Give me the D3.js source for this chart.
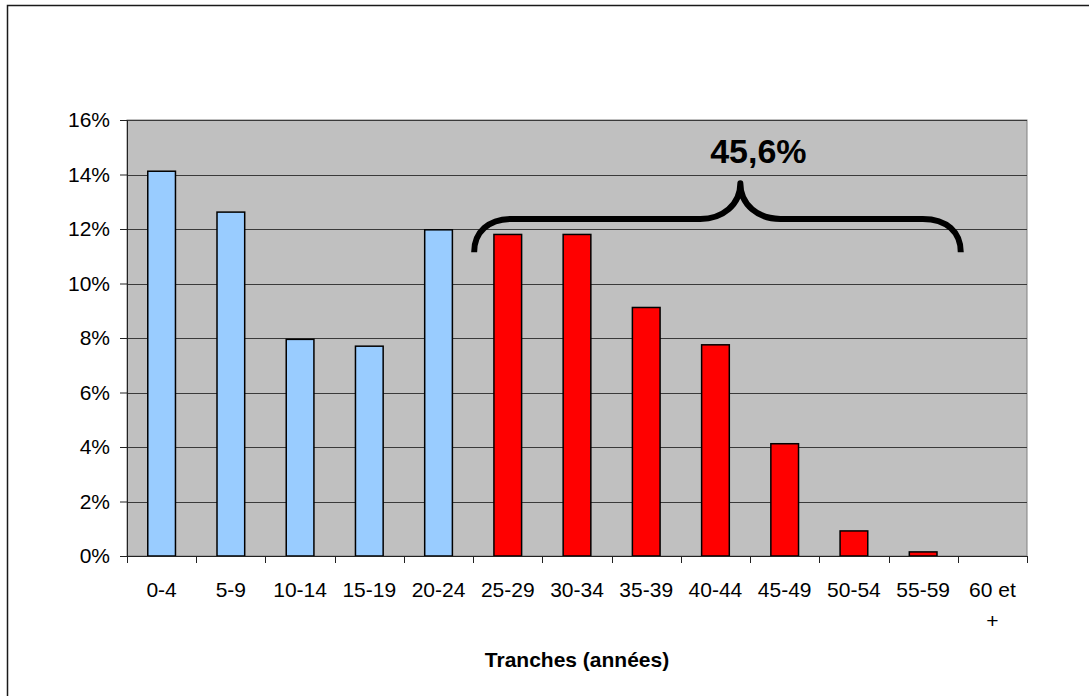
<!DOCTYPE html>
<html>
<head>
<meta charset="utf-8">
<script src="https://cdn.jsdelivr.net/npm/d3@7"></script>
<style>
  body { margin: 0; background: #fff; }
  svg { display: block; font-family: "Liberation Sans", Arial, sans-serif; }
</style>
</head>
<body>
<svg class="chart"></svg>
<script>
const categories = ['0-4', '5-9', '10-14', '15-19', '20-24', '25-29', '30-34',
  '35-39', '40-44', '45-49', '50-54', '55-59', '60 et +'];
const values = [14.12, 12.62, 7.95, 7.7, 11.97, 11.8, 11.8, 9.12, 7.75, 4.12, 0.92, 0.15, 0];
const highlighted = ['25-29', '30-34', '35-39', '40-44', '45-49', '50-54', '55-59', '60 et +'];
const yTicks = [0, 2, 4, 6, 8, 10, 12, 14, 16];
const braceLabel = '45,6%';
const xTitle = 'Tranches (années)';

const width = 1089;
const height = 696;

const svg = d3.select('.chart')
  .attr('width', width)
  .attr('height', height);

// outer frame: only the left and top edges show in the picture
svg.append('path')
  .attr('d', `M7.5,${height} L7.5,5.5 L${width},5.5`)
  .attr('fill', 'none')
  .attr('stroke', '#1a1a1a')
  .attr('stroke-width', 1.5);

const margin = {left: 127, top: 120, right: 62, bottom: 140};
const innerWidth = width - margin.left - margin.right;
const innerHeight = height - margin.top - margin.bottom;

const xScale = d3.scaleBand().domain(categories).range([0, innerWidth]).padding(0);
const yScale = d3.scaleLinear().domain([0, 16]).range([innerHeight, 0]);

const g = svg.append('g')
  .attr('transform', `translate(${margin.left},${margin.top})`);

g.append('rect')
  .attr('width', innerWidth)
  .attr('height', innerHeight)
  .attr('fill', '#c0c0c0')
  .attr('stroke', '#808080');

// gridlines
g.selectAll('.grid').data(yTicks.filter(d => d > 0)).enter().append('line')
  .attr('x1', 0).attr('x2', innerWidth)
  .attr('y1', d => Math.round(yScale(d)) + 0.5)
  .attr('y2', d => Math.round(yScale(d)) + 0.5)
  .attr('stroke', '#3a3a3a')
  .attr('stroke-width', 1);

// bars
const bw = xScale.bandwidth() * 0.4;
g.selectAll('.bar').data(categories).enter().append('rect')
  .attr('x', d => xScale(d) + (xScale.bandwidth() - bw) / 2)
  .attr('y', (d, i) => yScale(values[i]))
  .attr('width', bw)
  .attr('height', (d, i) => innerHeight - yScale(values[i]))
  .attr('fill', d => highlighted.includes(d) ? '#ff0000' : '#99ccff')
  .attr('stroke', '#000')
  .attr('stroke-width', 1.5)
  .attr('display', (d, i) => values[i] > 0 ? null : 'none');

// y axis
const yaxis = d3.axisLeft(yScale)
  .tickValues(yTicks)
  .tickFormat(d => d + '%')
  .tickSize(7)
  .tickPadding(10);
const yg = g.append('g').call(yaxis);
yg.select('.domain').attr('stroke', '#222');
yg.selectAll('.tick line').attr('stroke', '#222');
yg.selectAll('text')
  .attr('font-size', 21)
  .attr('fill', '#000')
  .attr('font-family', '"Liberation Sans", Arial, sans-serif');

// x axis
const xg = g.append('g').attr('transform', `translate(0,${innerHeight})`);
xg.append('line')
  .attr('x1', 0).attr('x2', innerWidth)
  .attr('y1', 0.5).attr('y2', 0.5)
  .attr('stroke', '#222');
const bounds = categories.map(d => xScale(d)).concat([innerWidth]);
xg.selectAll('.xtick').data(bounds).enter().append('line')
  .attr('x1', d => Math.round(d) + 0.5).attr('x2', d => Math.round(d) + 0.5)
  .attr('y1', 0).attr('y2', 7)
  .attr('stroke', '#222');
const labels = xg.selectAll('.xlabel').data(categories).enter().append('text')
  .attr('x', d => xScale(d) + xScale.bandwidth() / 2)
  .attr('y', 41)
  .attr('text-anchor', 'middle')
  .attr('font-size', 21)
  .attr('fill', '#000');
labels.each(function(d) {
  const parts = d === '60 et +' ? ['60 et', '+'] : [d];
  const t = d3.select(this);
  parts.forEach((p, i) => {
    t.append('tspan')
      .attr('x', xScale(d) + xScale.bandwidth() / 2)
      .attr('dy', i === 0 ? 0 : 31)
      .text(p);
  });
});

// axis title
svg.append('text')
  .attr('x', 577)
  .attr('y', 667)
  .attr('text-anchor', 'middle')
  .attr('font-size', 21)
  .attr('font-weight', 'bold')
  .text(xTitle);

// brace over the highlighted groups
const bl = xScale('25-29') + 1;
const br = xScale('60 et +') + 3;
const peak = bl + (br - bl) * 0.547;
const yEnd = yScale(11.15);
const yMid = yScale(12.37);
const yTop = yScale(13.68);
const brace = d3.path();
brace.moveTo(bl, yEnd);
brace.bezierCurveTo(bl, yEnd - 20, bl + 14, yMid, bl + 38, yMid);
brace.lineTo(peak - 40, yMid);
brace.bezierCurveTo(peak - 18, yMid, peak, yMid - 14, peak, yTop);
brace.bezierCurveTo(peak, yMid - 14, peak + 18, yMid, peak + 40, yMid);
brace.lineTo(br - 38, yMid);
brace.bezierCurveTo(br - 14, yMid, br, yEnd - 20, br, yEnd);
g.append('path')
  .attr('d', brace.toString())
  .attr('fill', 'none')
  .attr('stroke', '#000')
  .attr('stroke-width', 6)
  .attr('stroke-linejoin', 'round');

g.append('text')
  .attr('x', peak + 18)
  .attr('y', yScale(14.4) - 1)
  .attr('text-anchor', 'middle')
  .attr('font-size', 34)
  .attr('font-weight', 'bold')
  .text(braceLabel);
</script>
</body>
</html>
